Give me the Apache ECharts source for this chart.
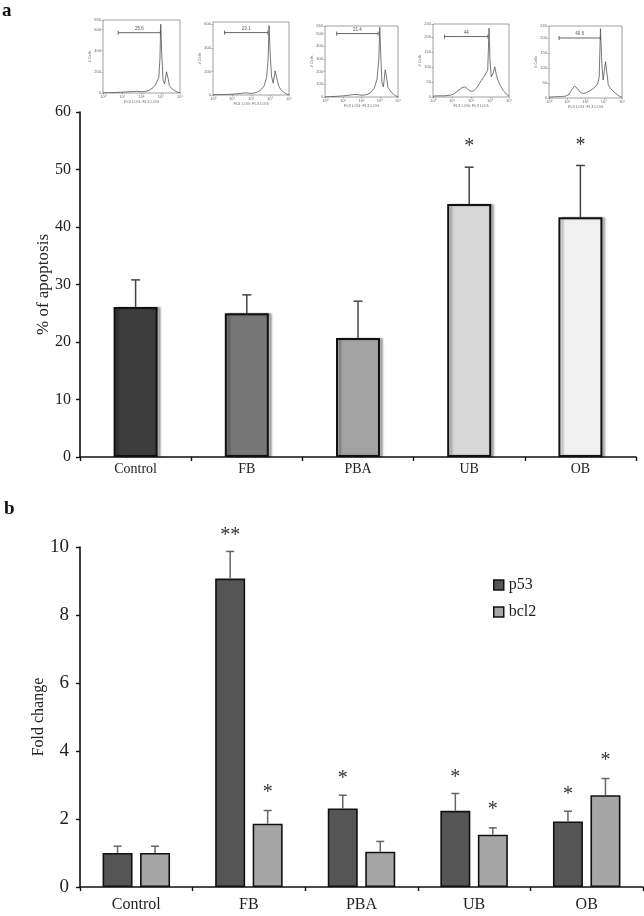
<!DOCTYPE html>
<html>
<head>
<meta charset="utf-8">
<script src="https://cdn.jsdelivr.net/npm/echarts@6/dist/echarts.min.js"></script>
<style>
html,body{margin:0;padding:0;background:#fff;}
#chart{width:644px;height:916px;}
</style>
</head>
<body>
<div id="chart"></div>
<script>
// ---------- Panel a data ----------
const categoriesA = ['Control', 'FB', 'PBA', 'UB', 'OB'];
const apoptosis = [26.1, 25.0, 20.7, 44.0, 41.7];
const apoptosisErr = [4.7, 3.2, 6.4, 6.4, 9.0];
const apoptosisSig = ['', '', '', '*', '*'];
const barColorsA = ['#3d3d3d', '#777777', '#a2a2a2', '#d7d7d7', '#f0f0f0'];
const yTicksA = { min: 0, max: 60, interval: 10 };

// ---------- Panel b data ----------
const categoriesB = ['Control', 'FB', 'PBA', 'UB', 'OB'];
const p53 = [1.0, 9.07, 2.31, 2.24, 1.93];
const p53Err = [0.2, 0.8, 0.39, 0.51, 0.3];
const p53Sig = ['', '**', '*', '*', '*'];
const bcl2 = [1.0, 1.86, 1.04, 1.54, 2.70];
const bcl2Err = [0.2, 0.39, 0.3, 0.2, 0.49];
const bcl2Sig = ['', '*', '', '*', '*'];
const yTicksB = { min: 0, max: 10, interval: 2 };

// ---------- Inset flow-cytometry histograms (x in log decades 0..4) ----------
const hist1 = [[0,2],[0.3,3],[0.6,5],[0.9,7],[1.2,10],[1.5,14],[1.75,16],[2.0,12],[2.2,14],[2.4,25],[2.6,50],[2.75,85],[2.9,150],[2.96,330],[3.0,650],[3.05,380],[3.12,120],[3.2,85],[3.3,200],[3.38,140],[3.45,70],[3.55,45],[3.7,25],[3.85,10],[4.0,3]];
const hist2 = [[0,2],[0.3,3],[0.6,4],[0.9,6],[1.2,9],[1.5,14],[1.7,18],[1.9,15],[2.1,14],[2.3,22],[2.5,40],[2.7,80],[2.82,150],[2.9,300],[2.95,590],[3.0,380],[3.08,160],[3.17,100],[3.27,205],[3.35,150],[3.45,80],[3.55,50],[3.7,25],[3.85,10],[4.0,3]];
const hist3 = [[0,2],[0.3,3],[0.6,5],[0.9,8],[1.2,12],[1.5,18],[1.7,20],[1.9,16],[2.1,14],[2.3,20],[2.5,35],[2.7,70],[2.85,140],[2.95,300],[3.0,550],[3.05,350],[3.12,110],[3.2,80],[3.3,215],[3.38,150],[3.45,75],[3.55,55],[3.7,28],[3.85,10],[4.0,3]];
const hist4 = [[0,3],[0.3,4],[0.6,4],[0.9,6],[1.1,10],[1.3,20],[1.5,30],[1.67,34],[1.8,28],[1.95,20],[2.1,19],[2.3,30],[2.55,56],[2.7,70],[2.8,66],[2.88,90],[2.95,230],[3.0,120],[3.07,67],[3.17,80],[3.25,101],[3.33,75],[3.42,56],[3.55,38],[3.7,22],[3.85,10],[4.0,3]];
const hist5 = [[0,3],[0.3,4],[0.6,5],[0.9,6],[1.1,12],[1.25,28],[1.4,40],[1.55,32],[1.7,20],[1.85,15],[2.05,18],[2.3,26],[2.5,35],[2.67,48],[2.75,70],[2.82,231],[2.9,110],[2.97,60],[3.05,100],[3.1,121],[3.18,80],[3.25,43],[3.4,30],[3.6,18],[3.8,8],[4.0,2]];
const histYMax = [690, 620, 560, 244, 240];
const histYInterval = [200, 200, 100, 50, 50];
const gateStart = [0.79, 0.61, 0.64, 0.61, 0.55];
const gateEnd = [2.98, 2.89, 2.91, 2.89, 2.82];
const gateLevel = [570, 530, 500, 202, 200];
const gateLabel = ['25.6', '23.1', '21.4', '44', '40.6'];
const histTickLabels = ['10\u2070', '10\u00b9', '10\u00b2', '10\u00b3', '10\u2074'];

const serif = "'Liberation Serif', 'DejaVu Serif', serif";
const histData = [hist1, hist2, hist3, hist4, hist5];
const histBoxes = [
  {left: 103, top: 20, width: 77, height: 73},
  {left: 213, top: 22, width: 76, height: 73},
  {left: 325, top: 26, width: 73, height: 71},
  {left: 433, top: 24, width: 76, height: 73},
  {left: 549, top: 26, width: 73, height: 72}
];

const chart = echarts.init(document.getElementById('chart'), null, {renderer: 'canvas'});

const grids = [
  {left: 80, right: 8, top: 112, bottom: 459},
  {left: 80, right: 1, top: 547, bottom: 29}
];
const xAxes = [];
const yAxes = [];
const series = [];

const axisLineStyle = {show: true, lineStyle: {color: '#111', width: 1.6}};
const tickStyle = {show: true, length: 4, inside: false, lineStyle: {color: '#111', width: 1.4}};

// Panel a axes
xAxes.push({
  type: 'category', gridIndex: 0, data: categoriesA,
  axisLine: axisLineStyle, axisTick: tickStyle,
  axisLabel: {color: '#222', fontFamily: serif, fontSize: 14, margin: 5}
});
yAxes.push({
  type: 'value', gridIndex: 0, min: yTicksA.min, max: yTicksA.max, interval: yTicksA.interval,
  axisLine: axisLineStyle, axisTick: tickStyle, splitLine: {show: false},
  axisLabel: {color: '#222', fontFamily: serif, fontSize: 16, margin: 9},
  name: '% of apoptosis', nameLocation: 'middle', nameGap: 28, nameMoveOverlap: false,
  nameTextStyle: {color: '#222', fontFamily: serif, fontSize: 17}
});
// Panel b axes
xAxes.push({
  type: 'category', gridIndex: 1, data: categoriesB,
  axisLine: axisLineStyle, axisTick: tickStyle,
  axisLabel: {color: '#222', fontFamily: serif, fontSize: 16, margin: 10}
});
yAxes.push({
  type: 'value', gridIndex: 1, min: yTicksB.min, max: yTicksB.max, interval: yTicksB.interval,
  axisLine: axisLineStyle, axisTick: tickStyle, splitLine: {show: false},
  axisLabel: {color: '#222', fontFamily: serif, fontSize: 19, margin: 11},
  name: 'Fold change', nameLocation: 'middle', nameGap: 33, nameMoveOverlap: false,
  nameTextStyle: {color: '#222', fontFamily: serif, fontSize: 16}
});

// Panel a bars
series.push({
  type: 'bar', xAxisIndex: 0, yAxisIndex: 0, barWidth: 44,
  data: apoptosis.map((v, i) => ({value: v, itemStyle: {color: barColorsA[i]}})),
  itemStyle: {borderColor: '#111', borderWidth: 2, shadowColor: 'rgba(0,0,0,0.28)', shadowOffsetX: 3, shadowBlur: 2},
  silent: true, z: 2
});
function errRender(values, errs, sigs, offset, capW, color, starSize, starGap) {
  return function (params, api) {
    const i = params.dataIndex;
    const b = api.coord([i, values[i]]);
    const t = api.coord([i, values[i] + errs[i]]);
    const x = b[0] + offset;
    const children = [
      {type: 'line', shape: {x1: x, y1: b[1], x2: x, y2: t[1]}, style: {stroke: color, lineWidth: 1.5}},
      {type: 'line', shape: {x1: x - capW / 2, y1: t[1], x2: x + capW / 2, y2: t[1]}, style: {stroke: color, lineWidth: 1.5}}
    ];
    if (sigs[i]) {
      children.push({type: 'text', style: {text: sigs[i], x: x, y: t[1] - starGap, align: 'center', verticalAlign: 'middle',
        fill: '#333', font: starSize + 'px ' + serif}});
    }
    return {type: 'group', children: children};
  };
}
series.push({
  type: 'custom', xAxisIndex: 0, yAxisIndex: 0, z: 5, silent: true,
  data: apoptosis.map((v, i) => [i, v + apoptosisErr[i]]),
  renderItem: errRender(apoptosis, apoptosisErr, apoptosisSig, 0, 9, '#444', 20, 20)
});

// Panel b bars
const barWB = 30, gapB = 7.5;
series.push({
  name: 'p53', type: 'bar', xAxisIndex: 1, yAxisIndex: 1, barWidth: barWB, barGap: '25%',
  data: p53, itemStyle: {color: '#555555', borderColor: '#111', borderWidth: 1.6}, silent: true
});
series.push({
  name: 'bcl2', type: 'bar', xAxisIndex: 1, yAxisIndex: 1, barWidth: barWB, barGap: '25%',
  data: bcl2, itemStyle: {color: '#a6a6a6', borderColor: '#111', borderWidth: 1.6}, silent: true
});
series.push({
  type: 'custom', xAxisIndex: 1, yAxisIndex: 1, z: 5, silent: true,
  data: p53.map((v, i) => [i, v + p53Err[i]]),
  renderItem: errRender(p53, p53Err, p53Sig, -(barWB + gapB) / 2, 8, '#666', 20, 16)
});
series.push({
  type: 'custom', xAxisIndex: 1, yAxisIndex: 1, z: 5, silent: true,
  data: bcl2.map((v, i) => [i, v + bcl2Err[i]]),
  renderItem: errRender(bcl2, bcl2Err, bcl2Sig, (barWB + gapB) / 2, 8, '#666', 20, 18)
});

// Insets
histData.forEach((h, k) => {
  const gi = grids.length;
  grids.push(Object.assign({show: true, borderColor: '#888', borderWidth: 0.8, backgroundColor: '#fff'}, histBoxes[k]));
  xAxes.push({
    type: 'value', gridIndex: gi, min: 0, max: 4, interval: 1,
    axisLine: {show: false}, splitLine: {show: false},
    axisTick: {show: true, length: 1.5, lineStyle: {color: '#777', width: 0.6}},
    axisLabel: {fontSize: 4, color: '#666', margin: 2, formatter: v => histTickLabels[v]},
    name: 'FL3 LOG: FL3 LOG', nameLocation: 'middle', nameGap: 7, nameMoveOverlap: false,
    nameTextStyle: {fontSize: 4, color: '#666'}
  });
  yAxes.push({
    type: 'value', gridIndex: gi, min: 0, max: histYMax[k], interval: histYInterval[k],
    axisLine: {show: false}, splitLine: {show: false},
    axisTick: {show: true, length: 1.5, lineStyle: {color: '#777', width: 0.6}},
    axisLabel: {fontSize: 4, color: '#666', margin: 2},
    name: '# Cells', nameLocation: 'middle', nameGap: 11, nameMoveOverlap: false,
    nameTextStyle: {fontSize: 4, color: '#666'}
  });
  series.push({
    type: 'line', xAxisIndex: gi, yAxisIndex: gi, data: h, showSymbol: false, silent: true,
    lineStyle: {color: '#555', width: 0.8}, z: 3
  });
  series.push({
    type: 'custom', xAxisIndex: gi, yAxisIndex: gi, silent: true, z: 4,
    data: [[gateStart[k], gateEnd[k], gateLevel[k]]],
    renderItem: function (params, api) {
      const a = api.coord([api.value(0), api.value(2)]);
      const b = api.coord([api.value(1), api.value(2)]);
      const st = {stroke: '#555', lineWidth: 0.9};
      return {type: 'group', children: [
        {type: 'line', shape: {x1: a[0], y1: a[1], x2: b[0], y2: b[1]}, style: st},
        {type: 'line', shape: {x1: a[0], y1: a[1] - 2, x2: a[0], y2: a[1] + 2}, style: st},
        {type: 'line', shape: {x1: b[0], y1: b[1] - 2, x2: b[0], y2: b[1] + 2}, style: st},
        {type: 'text', style: {text: gateLabel[k], x: (a[0] + b[0]) / 2, y: a[1] - 1.5, align: 'center', verticalAlign: 'bottom',
          fill: '#555', font: '4.5px sans-serif'}}
      ]};
    }
  });
});

chart.setOption({
  animation: false,
  backgroundColor: '#fff',
  grid: grids,
  xAxis: xAxes,
  yAxis: yAxes,
  series: series,
  legend: {
    data: ['p53', 'bcl2'], orient: 'vertical', left: 488, top: 572,
    itemWidth: 10, itemHeight: 10, itemGap: 11, icon: 'rect',
    itemStyle: {borderColor: '#111', borderWidth: 1.5},
    textStyle: {color: '#222', fontFamily: serif, fontSize: 16}, selectedMode: false
  },
  graphic: [
    {type: 'text', left: 2, top: 2, style: {text: 'a', font: 'bold 19px ' + serif, fill: '#111'}},
    {type: 'text', left: 4, top: 500, style: {text: 'b', font: 'bold 19px ' + serif, fill: '#111'}}
  ]
});
</script>
</body>
</html>
